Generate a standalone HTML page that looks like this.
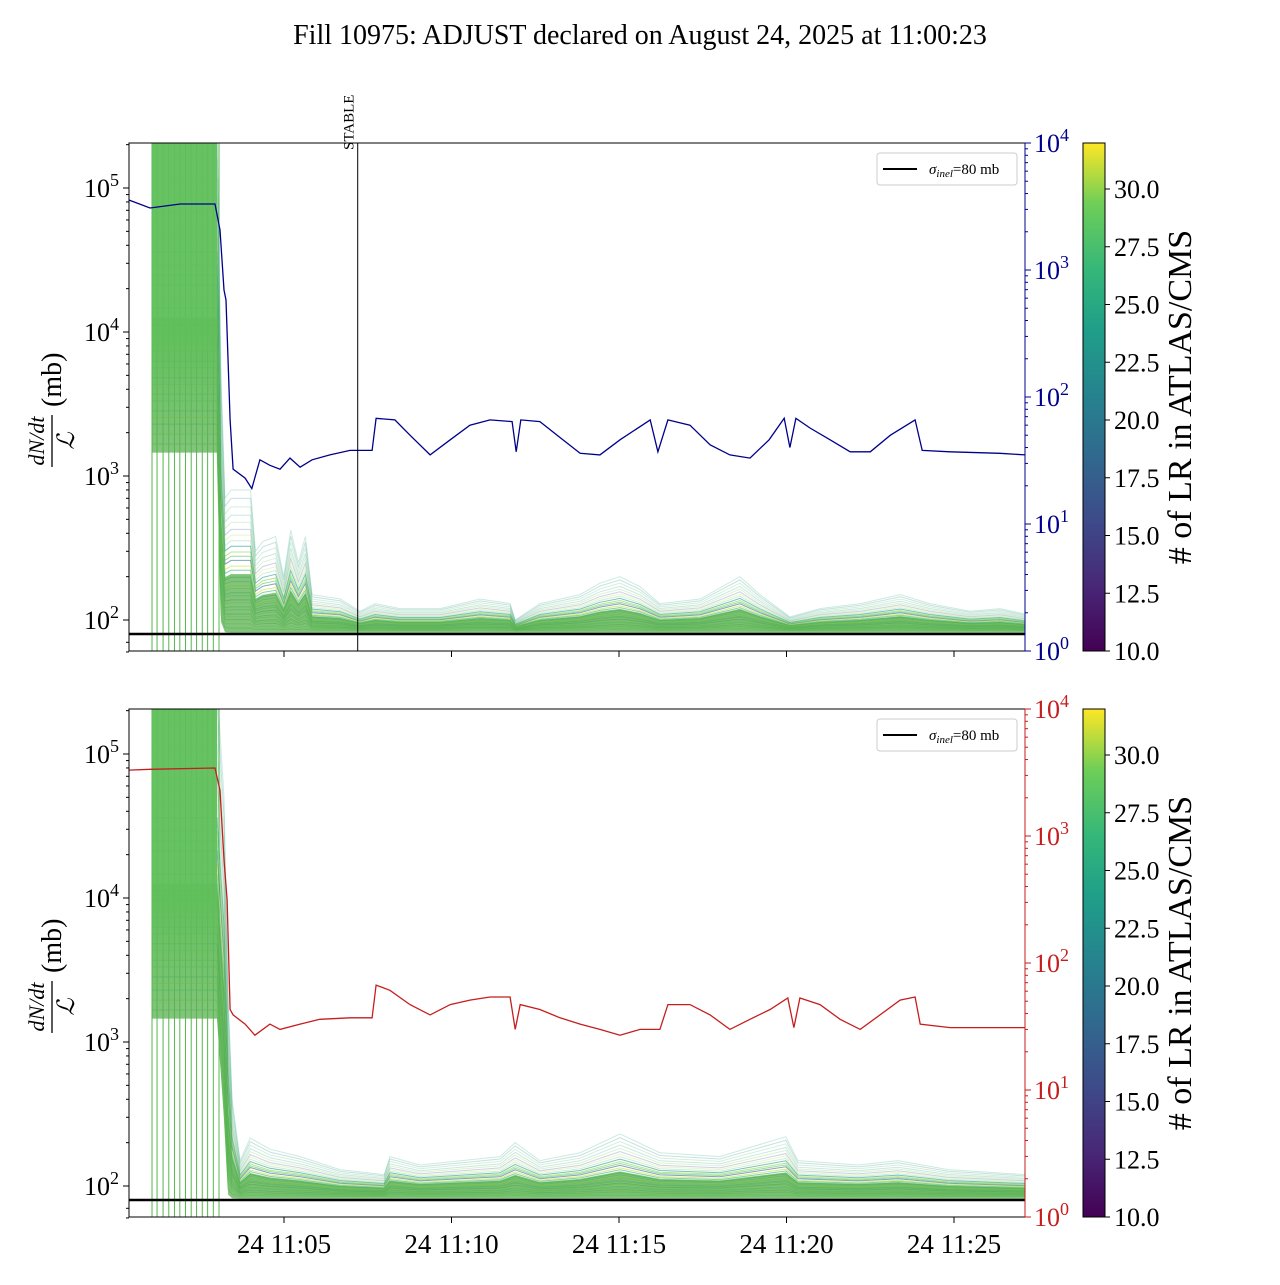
<!DOCTYPE html>
<html><head><meta charset="utf-8">
<style>
body{margin:0;background:#fff;}
svg text{font-family:"Liberation Serif","DejaVu Serif",serif;fill:#000;}
</style></head>
<body>
<svg id="chart" width="1280" height="1280" viewBox="0 0 1280 1280" xmlns="http://www.w3.org/2000/svg">
<defs>
<clipPath id="clipTop"><rect x="129" y="143" width="896" height="508"/></clipPath>
<clipPath id="clipBot"><rect x="129" y="709" width="896" height="508"/></clipPath>
<linearGradient id="viridis" x1="0" y1="1" x2="0" y2="0">
<stop offset="0" stop-color="#440154"/><stop offset="0.13" stop-color="#482878"/><stop offset="0.25" stop-color="#3e4989"/><stop offset="0.38" stop-color="#31688e"/><stop offset="0.5" stop-color="#26828e"/><stop offset="0.63" stop-color="#1f9e89"/><stop offset="0.75" stop-color="#35b779"/><stop offset="0.88" stop-color="#6ece58"/><stop offset="1" stop-color="#fde725"/>
</linearGradient>
<linearGradient id="fadeTop" x1="0" y1="0" x2="0" y2="1">
<stop offset="0" stop-color="#5fbf5a" stop-opacity="0.95"/><stop offset="0.62" stop-color="#5fbf5a" stop-opacity="0.95"/><stop offset="1" stop-color="#5fbf5a" stop-opacity="0"/>
</linearGradient>
</defs>
<text x="640" y="44" font-size="28" text-anchor="middle">Fill 10975: ADJUST declared on August 24, 2025 at 11:00:23</text>
<g id="top"></g>
<g id="bot"></g>
</svg>
<script>
// ---- data ----
const bandTimes = [1.06,3.0,3.12,3.24,3.42,4.0,4.15,4.36,4.75,4.99,5.2,5.43,5.64,5.84,6.68,7.27,7.72,8.46,9.66,10.85,11.75,11.9,12.64,13.84,14.43,15.03,15.63,16.22,17.42,18.61,19.21,20.1,21.0,22.2,23.4,24.28,25.48,26.37,27.12];
const topUpper = [3e5,3e5,5000,700,800,800,300,350,380,200,420,250,380,150,140,115,130,120,120,140,130,100,130,150,180,200,170,130,140,200,150,105,120,130,150,130,115,120,110];
const topLower = [1500,1500,100,85,84,84,84,84,84,84,84,84,84,84,84,84,84,84,84,84,84,84,84,84,84,84,84,84,84,84,84,84,84,84,84,84,84,84,84];
const botTimes = [1.06,3.0,3.21,3.33,3.45,3.69,3.99,4.58,5.48,6.67,7.99,8.16,9.06,11.45,11.9,12.64,13.84,15.03,16.22,18.01,19.98,20.34,22.13,23.33,24.82,27.12];
const botUpper = [3e5,3e5,5e4,2150,400,150,215,180,160,130,120,160,140,160,200,150,170,230,170,160,220,150,140,150,130,120];
const botLower = [1500,1500,300,90,85,84,84,84,84,84,84,84,84,84,84,84,84,84,84,84,84,84,84,84,84,84];
const lineShares = [0.02,0.05,0.08,0.1,0.12,0.15,0.17,0.2,0.22,0.25,0.27,0.3,0.32,0.35,0.38,0.4,0.43,0.46,0.5,0.53,0.56,0.6,0.64,0.68,0.72,0.77,0.82,0.88,0.94,1.0];
const lineLR = [26,28,24,30,22,27,25,29,19,26,23,28,31,25,21,27,24,30,17,26,28,22,25,29,15,27,23,26,20,24];
const denseShare = 0.4;
const fillTimes = [1.06,1.2,1.4,1.6,1.8,2.0,2.2,2.4,2.6,2.8,3.0];
const vlineTimes = [1.06,1.21,1.39,1.56,1.73,1.89,2.06,2.23,2.39,2.56,2.72,2.89,3.06];
const blueT = [0.37,1.0,1.9,2.94,3.09,3.21,3.27,3.39,3.48,3.84,4.04,4.28,4.58,4.88,5.18,5.48,5.84,6.37,6.97,7.63,7.75,8.31,8.76,9.36,9.96,10.55,11.15,11.81,11.93,12.07,12.64,13.24,13.84,14.43,15.03,15.93,16.16,16.46,17.12,17.72,18.31,18.91,19.48,19.93,20.1,20.28,20.7,21.3,21.9,22.5,23.1,23.84,24.05,24.88,26.37,27.12];
const blueV = [3556,3077,3311,3311,2065,696,580,66,27,23,19,32,29,27,33,28,32,35,38,38,68,66,50,35,46,60,66,64,37,66,64,48,36,35,46,66,37,66,60,42,35,33,46,68,40,68,57,46,37,37,50,66,38,37,36,35];
const redT = [0.37,1.0,2.94,3.09,3.21,3.3,3.39,3.48,3.84,4.13,4.58,4.88,5.48,6.07,6.97,7.63,7.75,8.16,8.76,9.36,9.96,10.55,11.15,11.75,11.9,12.05,12.64,13.24,13.84,14.43,15.03,15.63,16.22,16.46,17.12,17.72,18.31,18.91,19.51,20.04,20.22,20.4,21.0,21.6,22.2,22.79,23.39,23.84,23.99,24.88,27.12];
const redV = [3300,3350,3430,2290,650,316,43,39,33,27,33,30,33,36,37,37,67,61,47,39,47,51,54,54,30,47,43,37,33,30,27,30,30,47,47,39,30,36,43,53,31,53,47,36,30,39,51,54,33,31,31];
const leftTicks = [2,3,4,5];
const rightTicks = [0,1,2,3,4];
const xTickLabels = ["24 11:05","24 11:10","24 11:15","24 11:20","24 11:25"];
const xTickMins = [5,10,15,20,25];
const cbTicks = [10,12.5,15,17.5,20,22.5,25,27.5,30];
const sigmaInel = 80;
const stableT = 7.2;

// ---- helpers ----
const NS = "http://www.w3.org/2000/svg";
function mk(tag, attrs, parent){const e=document.createElementNS(NS,tag);for(const k in attrs)e.setAttribute(k,attrs[k]);parent.appendChild(e);return e;}
const X0=129,X1=1025;
function xs(t){return X0+(t-0.373)*33.5;}
function yL(v,top){return top+45+(5-Math.log10(v))*144;}
function yR(v,top){return top+508-Math.log10(v)*127;}
const vir=[[68,1,84],[72,40,120],[62,73,137],[49,104,142],[38,130,142],[31,158,137],[53,183,121],[110,206,88],[181,222,43],[253,231,37]];
function viridis(v){let f=(v-10)/22;f=Math.max(0,Math.min(1,f))*(vir.length-1);const i=Math.min(vir.length-2,Math.floor(f)),r=f-i;const c=vir[i].map((a,k)=>Math.round(a+(vir[i+1][k]-a)*r));return `rgb(${c[0]},${c[1]},${c[2]})`;}
function mixv(lo,hi,s){return Math.exp(Math.log(lo)+s*(Math.log(hi)-Math.log(lo)));}

function panel(gid, top, times, upper, lower, lineT, lineV, lineColor, showX, showStable){
  const g=document.getElementById(gid);
  const clip = gid==='top'?'url(#clipTop)':'url(#clipBot)';
  const data=mk('g',{'clip-path':clip},g);
  
  
  // vertical lines
  vlineTimes.forEach(t=>{const l=mk('line',{x1:xs(t),x2:xs(t),y1:top,y2:top+508,stroke:'#55b84d','stroke-width':1},data);
    
    });
  // band lines
  lineShares.forEach((s,i)=>{
    const p=times.map((t,j)=>xs(t).toFixed(1)+','+yL(mixv(lower[j],upper[j],s),top).toFixed(1));
    const pl=mk('polyline',{points:p.join(' '),fill:'none',stroke:viridis(lineLR[i]),'stroke-width':1,opacity:s>0.6?0.25:0.6},data);
    
    
  });
  // dense band area
  let ap=times.map((t,j)=>xs(t).toFixed(1)+','+yL(mixv(lower[j],upper[j],denseShare),top).toFixed(1));
  for(let j=times.length-1;j>=0;j--)ap.push(xs(times[j]).toFixed(1)+','+(yL(lower[j],top)+2).toFixed(1));
  const ar=mk('polygon',{points:ap.join(' '),fill:'#58b04f',opacity:0.75},data);
  
  
  // dense early fill with fade
  const ytop=top-5, ybot=yL(1500,top);
  const f=mk('rect',{x:xs(fillTimes[0]),y:ytop,width:xs(fillTimes[fillTimes.length-1])-xs(fillTimes[0]),height:ybot-ytop,fill:'url(#fadeTop)'},data);
  
  
  // sigma line
  const sl=mk('line',{x1:X0,x2:X1,y1:yL(sigmaInel,top),y2:yL(sigmaInel,top),stroke:'#000','stroke-width':2.5},data);
  
  
  // lumi line
  const lp=lineT.map((t,j)=>xs(t).toFixed(1)+','+yR(lineV[j],top).toFixed(1));
  const ll=mk('polyline',{points:lp.join(' '),fill:'none',stroke:lineColor,'stroke-width':1.3},data);
  
  
  if(showStable){
    const sx=xs(stableT);
    const st=mk('line',{x1:sx,x2:sx,y1:top,y2:top+508,stroke:'#000','stroke-width':1},g);
    
    
    const tx=mk('text',{x:0,y:0,'font-size':15,transform:`translate(${sx-4},${top+7}) rotate(-90)`},g);
    tx.textContent='STABLE';
    
    
  }
  // frame
  const fr=mk('rect',{x:X0,y:top,width:X1-X0,height:508,fill:'none',stroke:'#000','stroke-width':1},g);
  
  
  // left ticks
  leftTicks.forEach(e=>{const y=yL(Math.pow(10,e),top);
    mk('line',{x1:X0-6,x2:X0,y1:y,y2:y,stroke:'#000'},g);
    const t=mk('text',{x:X0-10,y:y+9,'font-size':26,'text-anchor':'end'},g);
    t.innerHTML=`10<tspan dy="-11" font-size="18">${e}</tspan>`;
    
    
    for(let k=2;k<10;k++){const ym=yL(k*Math.pow(10,e),top);if(ym>top&&ym<top+508)mk('line',{x1:X0-3,x2:X0,y1:ym,y2:ym,stroke:'#000'},g);}
  });
  mk('line',{x1:X0-3,x2:X0,y1:yL(70,top),y2:yL(70,top),stroke:'#000'},g);
  mk('line',{x1:X0-3,x2:X0,y1:yL(60,top),y2:yL(60,top),stroke:'#000'},g);
  // right ticks
  rightTicks.forEach(e=>{const y=yR(Math.pow(10,e),top);
    mk('line',{x1:X1,x2:X1+6,y1:y,y2:y,stroke:lineColor},g);
    const t=mk('text',{x:X1+9,y:y+9,'font-size':26,fill:lineColor},g);
    t.setAttribute('style','fill:'+lineColor);
    t.innerHTML=`10<tspan dy="-11" font-size="18">${e}</tspan>`;
    
    
    if(e<4)for(let k=2;k<10;k++){const ym=yR(k*Math.pow(10,e),top);mk('line',{x1:X1,x2:X1+3,y1:ym,y2:ym,stroke:lineColor},g);}
  });
  mk('line',{x1:X1,x2:X1,y1:top,y2:top+508,stroke:lineColor,'stroke-width':1},g);
  // x ticks
  xTickMins.forEach((m,i)=>{const x=xs(m);
    mk('line',{x1:x,x2:x,y1:top+508,y2:top+514,stroke:'#000'},g);
    if(showX){const t=mk('text',{x:x,y:top+508+36,'font-size':27,'text-anchor':'middle'},g);t.textContent=xTickLabels[i];
      
      }
  });
  // y label
  const yl=mk('g',{transform:`translate(52,${top+254}) rotate(-90)`},g);
  
  
  const n=mk('text',{x:-44,y:-8,'font-size':22,'font-style':'italic','text-anchor':'middle'},yl);n.textContent='dN/dt';
  mk('line',{x1:-70,x2:-18,y1:0,y2:0,stroke:'#000','stroke-width':1.3},yl);
  const d=mk('text',{x:-44,y:22,'font-size':24,'font-style':'italic','text-anchor':'middle'},yl);d.textContent='ℒ';
  const mb=mk('text',{x:-10,y:9,'font-size':28},yl);mb.textContent='(mb)';
  // legend
  const lg=mk('g',{},g);
  
  
  mk('rect',{x:877,y:top+10,width:140,height:32,rx:3,fill:'#fff',stroke:'#ccc'},lg);
  mk('line',{x1:883,x2:917,y1:top+26,y2:top+26,stroke:'#000','stroke-width':2},lg);
  const lt=mk('text',{x:929,y:top+31,'font-size':15},lg);
  lt.innerHTML='<tspan font-style="italic">σ</tspan><tspan font-size="11" font-style="italic" dy="3">inel</tspan><tspan dy="-3">=80 mb</tspan>';
  // colorbar
  const cb=mk('g',{},g);
  
  
  mk('rect',{x:1083,y:top,width:22,height:508,fill:'url(#viridis)',stroke:'#000','stroke-width':1},cb);
  cbTicks.forEach(v=>{const y=top+508-(v-10)*23.1;
    mk('line',{x1:1105,x2:1110,y1:y,y2:y,stroke:'#000'},cb);
    const t=mk('text',{x:1114,y:y+9,'font-size':26},cb);t.textContent=v.toFixed(1);
    
    });
  const ct=mk('text',{x:0,y:0,'font-size':34,'text-anchor':'middle',transform:`translate(1191,${top+254}) rotate(-90)`},cb);
  ct.textContent='# of LR in ATLAS/CMS';
  
  
}
panel('top',143,bandTimes,topUpper,topLower,blueT,blueV,'#00008b',false,true);
panel('bot',709,botTimes,botUpper,botLower,redT,redV,'#c41e1e',true,false);
</script>
</body></html>
